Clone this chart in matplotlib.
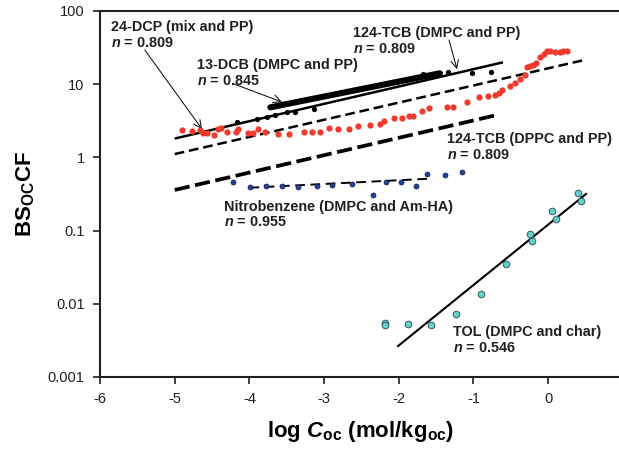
import matplotlib
matplotlib.use("Agg")
import matplotlib.pyplot as plt
import numpy as np

plt.rcParams['font.family'] = ['Liberation Sans', 'DejaVu Sans']
plt.rcParams['mathtext.fontset'] = 'custom'
plt.rcParams['mathtext.rm'] = 'Liberation Sans:bold'
plt.rcParams['mathtext.it'] = 'Liberation Sans:italic:bold'
plt.rcParams['mathtext.bf'] = 'Liberation Sans:bold'
plt.rcParams['mathtext.bfit'] = 'Liberation Sans:italic:bold'
plt.rcParams['lines.scale_dashes'] = False

# ---------------- data ----------------
# 24-DCP / 124-TCB (black points)
dcp_x = [-4.17, -3.90, -3.77, -3.66, -3.50, -3.39, -3.14, -2.03, -1.68, -1.34, -1.02, -0.76]
dcp_y = [3.05, 3.31, 3.60, 3.80, 4.17, 4.17, 4.58, 10.7, 13.6, 14.9, 14.4, 14.9]
dcp_fit_x = [-5.0, -0.605]
dcp_fit_y = [1.81, 19.9]

# 13-DCB dense band
dcb_x = [-3.72, -1.45]
dcb_y = [4.83, 14.1]

# red points
red_x = [-4.90, -4.77, -4.66, -4.62, -4.57, -4.48, -4.42, -4.38, -4.30, -4.18, -4.15, -4.02,
         -3.95, -3.88, -3.79, -3.62, -3.47, -3.27, -3.16, -3.06, -2.93, -2.82, -2.66, -2.55,
         -2.39, -2.25, -2.20, -2.07, -1.96, -1.87, -1.81, -1.69, -1.59, -1.36, -1.28, -1.09,
         -0.92, -0.81, -0.71, -0.66, -0.62, -0.51, -0.44, -0.38, -0.31, -0.28, -0.24, -0.20,
         -0.16, -0.11, -0.06, -0.02, 0.03, 0.09, 0.16, 0.20, 0.25]
red_y = [2.37, 2.32, 2.37, 2.15, 2.13, 2.02, 2.42, 2.50, 2.24, 2.24, 2.42, 2.17,
         2.13, 2.42, 2.24, 2.09, 2.09, 2.22, 2.20, 2.22, 2.50, 2.44, 2.44, 2.69,
         2.81, 2.90, 3.19, 3.42, 3.42, 3.64, 3.68, 4.37, 4.66, 4.81, 4.83, 5.76,
         6.69, 6.90, 7.12, 7.70, 8.34, 9.54, 10.5, 11.8, 13.4, 17.2, 17.5, 18.3,
         19.3, 23.5, 25.9, 28.0, 28.4, 27.5, 27.5, 28.7, 28.0]

# dashed fits
tcb_dmpc_fit_x = [-5.0, 0.50]
tcb_dmpc_fit_y = [1.11, 21.6]
tcb_dppc_fit_x = [-5.0, -0.69]
tcb_dppc_fit_y = [0.359, 3.79]

# nitrobenzene
nb_x = [-4.22, -3.99, -3.78, -3.57, -3.35, -3.10, -2.89, -2.62, -2.35, -2.17, -1.97, -1.77,
        -1.62, -1.38, -1.15]
nb_y = [0.466, 0.398, 0.403, 0.403, 0.398, 0.41, 0.42, 0.434, 0.306, 0.461, 0.466, 0.41,
        0.593, 0.569, 0.625]
nb_fit_x = [-4.0, -1.62]
nb_fit_y = [0.385, 0.51]

# TOL
tol_x = [-2.19, -2.19, -1.88, -1.57, -1.23, -0.90, -0.57, -0.24, -0.22, 0.055, 0.10, 0.395, 0.44]
tol_y = [0.0055, 0.0051, 0.0053, 0.0051, 0.0072, 0.0136, 0.0347, 0.090, 0.072, 0.187, 0.146,
         0.324, 0.257]
tol_fit_x = [-2.01, 0.506]
tol_fit_y = [0.00265, 0.316]

x_ticks = [-6, -5, -4, -3, -2, -1, 0]
x_tick_labels = ['-6', '-5', '-4', '-3', '-2', '-1', '0']
y_ticks = [0.001, 0.01, 0.1, 1, 10, 100]
y_tick_labels = ['0.001', '0.01', '0.1', '1', '10', '100']

# ---------------- figure ----------------
fig = plt.figure(figsize=(6.19, 4.5), dpi=100)
ax = fig.add_axes([100/619, 73/450, 7*74.7/619, 366/450])
ax.set_yscale('log')
ax.set_xlim(-6, 1)
ax.set_ylim(0.001, 100)

# fits
ax.plot(dcp_fit_x, dcp_fit_y, color='black', lw=1.8, solid_capstyle='butt', zorder=3)
ax.plot(dcb_x, dcb_y, color='black', lw=4.4, solid_capstyle='round', zorder=3)
ax.plot(tcb_dmpc_fit_x, tcb_dmpc_fit_y, color='black', lw=1.8, dashes=(7, 3.5), zorder=3)
ax.plot(tcb_dppc_fit_x, tcb_dppc_fit_y, color='black', lw=2.7, dashes=(11, 4), zorder=3)
ax.plot(nb_fit_x, nb_fit_y, color='black', lw=1.4, dashes=(7, 4), zorder=3)
ax.plot(tol_fit_x, tol_fit_y, color='black', lw=1.5, zorder=3)

# points
ax.plot(dcp_x, dcp_y, 'o', color='black', ms=3.8, mew=0, zorder=4)
ax.plot(red_x, red_y, 'o', color='#ee3a2f', ms=4.5, mew=0, zorder=4)
ax.plot(nb_x, nb_y, 'o', color='#22419a', mec='#0f1f40', ms=3.6, mew=0.5, zorder=4)
ax.plot(tol_x, tol_y, 'o', color='#66cfcb', mec='#2d5f66', ms=4.8, mew=0.7, zorder=4)

# annotations
FS = 10.4
def label(x, y1, y2, title, nval):
    ax.text(x, y1, title, fontsize=FS, fontweight='bold', color='#231f20', va='center', ha='left')
    ax.text(x, y2, r'$\mathbfit{n}$' + ' = ' + nval, fontsize=FS, fontweight='bold',
            color='#231f20', va='center', ha='left')

label(-5.853, 60.4, 36.6, '24-DCP (mix and PP)', '0.809')
label(-4.70, 18.3, 11.1, '13-DCB (DMPC and PP)', '0.845')
label(-2.613, 50.0, 30.3, '124-TCB (DMPC and PP)', '0.809')
label(-1.355, 1.80, 1.07, '124-TCB (DPPC and PP)', '0.809')
label(-4.34, 0.21, 0.131, 'Nitrobenzene (DMPC and Am-HA)', '0.955')
label(-1.274, 0.00412, 0.00249, 'TOL (DMPC and char)', '0.546')

arrowprops = dict(arrowstyle='->', color='black', lw=0.7, shrinkA=0, shrinkB=0,
                  mutation_scale=14)
ax.annotate('', xy=(-4.635, 2.44), xytext=(-5.40, 29.3), arrowprops=arrowprops)
ax.annotate('', xy=(-3.564, 5.71), xytext=(-4.206, 10.07), arrowprops=arrowprops)
ax.annotate('', xy=(-1.221, 16.1), xytext=(-1.328, 40.2), arrowprops=arrowprops)

# axes styling
for s in ['left', 'bottom', 'top', 'right']:
    ax.spines[s].set_linewidth(1.5)
    ax.spines[s].set_color('#231f20')
ax.set_xticks(x_ticks)
ax.set_xticklabels(x_tick_labels)
ax.set_yticks(y_ticks)
ax.set_yticklabels(y_tick_labels)
ax.minorticks_off()
ax.tick_params(axis='both', direction='out', length=5, width=1.2, labelsize=10.5,
               colors='#231f20', pad=6)
ax.tick_params(axis='both', top=False, right=False)

ax.set_ylabel(r'BS$_{\mathregular{OC}}$CF', fontsize=16, fontweight='bold')
ax.yaxis.set_label_coords(-(100 - 37) / (7 * 74.7), 0.5)
ax.set_xlabel(r'log $\mathbfit{C}_{\mathregular{oc}}$ (mol/kg$_{\mathregular{oc}}$)',
              fontsize=16, fontweight='bold')
ax.xaxis.set_label_coords((361 - 100) / (7 * 74.7), -(419 - 377) / 366)

fig.savefig('out.png', dpi=100)
